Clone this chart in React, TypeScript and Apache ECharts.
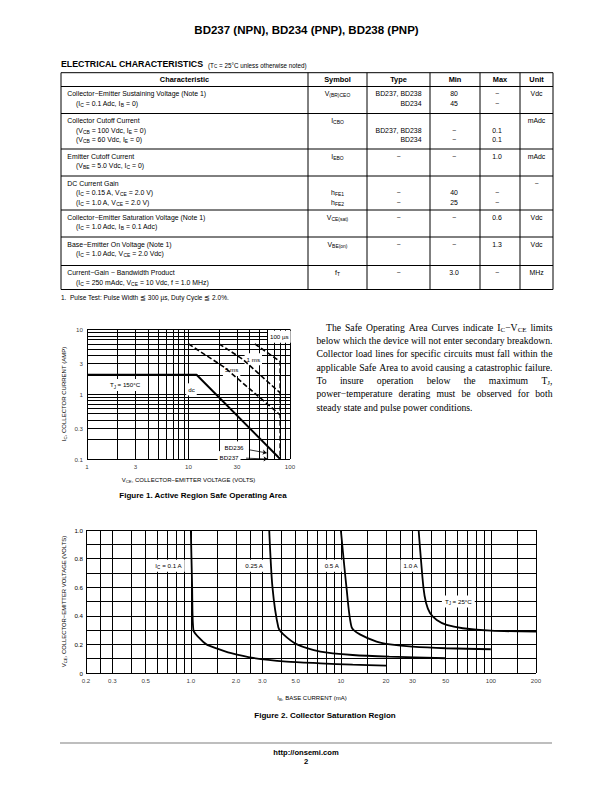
import React, { useEffect, useRef } from "react";
import * as echarts from "echarts";

const SANS = '"Liberation Sans", Arial, Helvetica, sans-serif';
const SERIF = '"Liberation Serif", "Times New Roman", Times, serif';
const BLACK = "#000";

// ---------------- page texts ----------------
const pageTitle = "BD237 (NPN), BD234 (PNP), BD238 (PNP)";
const tableTitle = "ELECTRICAL CHARACTERISTICS";
const tableTitleNote = "(T_{C} = 25°C unless otherwise noted)";
const tableHeaders = ["Characteristic", "Symbol", "Type", "Min", "Max", "Unit"];
const rowCharacteristic = [
  ["Collector−Emitter Sustaining Voltage (Note 1)", "(I_{C} = 0.1 Adc, I_{B} = 0)"],
  ["Collector Cutoff Current", "(V_{CB} = 100 Vdc, I_{E} = 0)", "(V_{CB} = 60 Vdc, I_{E} = 0)"],
  ["Emitter Cutoff Current", "(V_{BE} = 5.0 Vdc, I_{C} = 0)"],
  ["DC Current Gain", "(I_{C} = 0.15 A, V_{CE} = 2.0 V)", "(I_{C} = 1.0 A, V_{CE} = 2.0 V)"],
  ["Collector−Emitter Saturation Voltage (Note 1)", "(I_{C} = 1.0 Adc, I_{B} = 0.1 Adc)"],
  ["Base−Emitter On Voltage (Note 1)", "(I_{C} = 1.0 Adc, V_{CE} = 2.0 Vdc)"],
  ["Current−Gain − Bandwidth Product", "(I_{C} = 250 mAdc, V_{CE} = 10 Vdc, f = 1.0 MHz)"],
];
const rowSymbol = [["V_{(BR)CEO}"], ["I_{CBO}"], ["I_{EBO}"], ["", "h_{FE1}", "h_{FE2}"], ["V_{CE(sat)}"], ["V_{BE(on)}"], ["f_{T}"]];
const rowType = [["BD237, BD238", "BD234"], ["", "BD237, BD238", "BD234"], ["−"], ["", "−", "−"], ["−"], ["−"], ["−"]];
const rowMin = [["80", "45"], ["", "−", "−"], ["−"], ["", "40", "25"], ["−"], ["−"], ["3.0"]];
const rowMax = [["−", "−"], ["", "0.1", "0.1"], ["1.0"], ["", "−", "−"], ["0.6"], ["1.3"], ["−"]];
const rowUnit = [["Vdc"], ["mAdc"], ["mAdc"], ["−"], ["Vdc"], ["Vdc"], ["MHz"]];
const footnote = "1.  Pulse Test: Pulse Width ≦ 300 µs, Duty Cycle ≦ 2.0%.";

const paragraphLines = [
  "The Safe Operating Area Curves indicate I_{C}−V_{CE} limits",
  "below which the device will not enter secondary breakdown.",
  "Collector load lines for specific circuits must fall within the",
  "applicable Safe Area to avoid causing a catastrophic failure.",
  "To insure operation below the maximum T_{J},",
  "power−temperature derating must be observed for both",
  "steady state and pulse power conditions.",
];

// ---------------- Figure 1 data ----------------
const fig1XTicks = [1, 3, 10, 30, 100];
const fig1XTickLabels = ["1", "3", "10", "30", "100"];
const fig1YTicks = [0.1, 0.3, 1, 3, 10];
const fig1YTickLabels = ["0.1", "0.3", "1", "3", "10"];
const fig1XGrid = [1, 2, 3, 4, 5, 6, 7, 8, 9, 10, 20, 30, 40, 50, 60, 70, 80, 90, 100];
const fig1YGrid = [0.1, 0.2, 0.3, 0.4, 0.5, 0.6, 0.7, 0.8, 0.9, 1, 2, 3, 4, 5, 6, 7, 8, 9, 10];
const soaDc = [[1, 2], [12, 2], [80, 0.1]];
const soa5ms = [[10, 6], [22.6, 2.6], [80, 0.48]];
const soa1ms = [[20, 6], [34, 3.5], [80, 1.05]];
const soa100us = [[45, 6], [80, 3.2], [80, 0.1]];
const soaBD236 = [[60, 0.15], [60, 0.1]];
const fig1Notes = ["T_{J} = 150°C", "dc", "5 ms", "1 ms", "100 µs", "BD236", "BD237"];
const fig1Title = "Figure 1. Active Region Safe Operating Area";
const fig1XName = "V_{CE}, COLLECTOR−EMITTER VOLTAGE (VOLTS)";
const fig1YName = "I_{C}, COLLECTOR CURRENT (AMP)";

// ---------------- Figure 2 data ----------------
const fig2XTicks = [0.2, 0.3, 0.5, 1, 2, 3, 5, 10, 20, 30, 50, 100, 200];
const fig2XTickLabels = ["0.2", "0.3", "0.5", "1.0", "2.0", "3.0", "5.0", "10", "20", "30", "50", "100", "200"];
const fig2XGrid = [0.2, 0.25, 0.3, 0.4, 0.5, 0.6, 0.7, 0.8, 0.9, 1, 1.5, 2, 2.5, 3, 4, 5, 6, 7, 8, 9, 10, 15, 20, 25, 30, 40, 50, 60, 70, 80, 90, 100, 150, 200];
const fig2YGrid = [0, 0.1, 0.2, 0.3, 0.4, 0.5, 0.6, 0.7, 0.8, 0.9, 1.0];
const sat01A = [[1.0, 1.0], [1.02, 0.6], [1.04, 0.3], [1.15, 0.24], [1.27, 0.2], [1.5, 0.17], [1.83, 0.14], [2.6, 0.105], [4.35, 0.08], [7.3, 0.068], [12, 0.058], [20, 0.052]];
const sat025A = [[3.33, 1.0], [3.5, 0.6], [3.83, 0.32], [4.14, 0.27], [5.1, 0.2], [7.3, 0.15], [12, 0.126], [21, 0.114], [50, 0.103]];
const sat05A = [[10, 1.0], [10.9, 0.6], [11.8, 0.32], [13.4, 0.27], [17.3, 0.22], [21.3, 0.2], [30, 0.184], [50, 0.173], [100, 0.166]];
const sat10A = [[33, 1.0], [35.5, 0.6], [37, 0.49], [39.3, 0.42], [43.6, 0.37], [50.7, 0.336], [65, 0.313], [100, 0.296], [200, 0.289]];
const fig2Notes = ["I_{C} = 0.1 A", "0.25 A", "0.5 A", "1.0 A", "T_{J} = 25°C"];
const fig2Title = "Figure 2. Collector Saturation Region";
const fig2XName = "I_{B}, BASE CURRENT (mA)";
const fig2YName = "V_{CE}, COLLECTOR−EMITTER VOLTAGE (VOLTS)";

// ---------------- layout (not data) ----------------
const fig1NoteAt = [[2.37, 1.39], [10.7, 1.19], [26.6, 2.37], [43.5, 3.47], [78.5, 7.74], [28.1, 0.151], [25.1, 0.107]];
const fig1Leaders = [[[39.4, 0.139], [58.9, 0.124]], [[36.9, 0.103], [60, 0.1]]];
const fig2NoteAt = [[0.71, 0.75], [2.64, 0.75], [8.69, 0.75], [29.2, 0.75], [60.7, 0.5]];
const colEdges = [61, 308, 367, 430, 480, 520, 553];
const rowEdges = [72.7, 86.5, 113.5, 149, 176, 210, 237, 265.5, 289.5];

function splitSub(str: string) {
  return str.split(/_\{([^}]*)\}/);
}

function richParts(str: string, size: number, family: string, weight: string, subRatio = 0.72) {
  const parts = splitSub(str);
  let text = "";
  parts.forEach((p, i) => {
    if (p === "") return;
    text += `{${i % 2 ? "s" : "n"}|${p}}`;
  });
  const sub = size * subRatio;
  const rich = {
    n: { fontSize: size, fontFamily: family, fontWeight: weight, lineHeight: size * 1.3, verticalAlign: "middle", fill: BLACK, color: BLACK },
    s: { fontSize: sub, fontFamily: family, fontWeight: weight, lineHeight: sub, verticalAlign: "bottom", fill: BLACK, color: BLACK },
  };
  return { text, rich };
}

function T(x: number, y: number, str: string, size: number, opts: any = {}) {
  const family = opts.family || SANS;
  const weight = opts.weight || "normal";
  const { text, rich } = richParts(str, size, family, weight, opts.sub || 0.72);
  const align = opts.align || "left";
  return {
    type: "text",
    x,
    y,
    rotation: opts.rotation || 0,
    silent: true,
    z: 50,
    style: {
      text,
      rich,
      fontSize: size,
      fontFamily: family,
      fontWeight: weight,
      fill: BLACK,
      align,
      textAlign: align,
      verticalAlign: "middle",
      textVerticalAlign: "middle",
    },
  };
}

function L(x1: number, y1: number, x2: number, y2: number, w = 0.8, color = BLACK) {
  return { type: "line", silent: true, z: 40, shape: { x1, y1, x2, y2 }, style: { stroke: color, lineWidth: w } };
}

function buildTable(): any[] {
  const els: any[] = [];
  els.push(T(61, 64, tableTitle, 8.8, { weight: "bold" }));
  els.push(T(208, 65, tableTitleNote, 6.3));
  const top = rowEdges[0];
  const bottom = rowEdges[rowEdges.length - 1];
  rowEdges.forEach((y) => els.push(L(colEdges[0], y, colEdges[colEdges.length - 1], y, 1)));
  colEdges.forEach((x) => els.push(L(x, top, x, bottom, 1)));
  tableHeaders.forEach((h, i) => {
    els.push(T((colEdges[i] + colEdges[i + 1]) / 2, (rowEdges[0] + rowEdges[1]) / 2, h, 7.4, { weight: "bold", align: "center" }));
  });
  const lineY = (r: number, k: number) => rowEdges[r + 1] + 7.4 + k * 9.4;
  rowCharacteristic.forEach((lines, r) => {
    lines.forEach((s, k) => els.push(T(k === 0 ? 67.3 : 76, lineY(r, k), s, 6.9)));
    rowSymbol[r].forEach((s, k) => s && els.push(T(337.5, lineY(r, k), s, 6.9, { align: "center" })));
    rowType[r].forEach((s, k) => {
      if (!s) return;
      if (s.startsWith("BD")) els.push(T(421.5, lineY(r, k), s, 6.9, { align: "right" }));
      else els.push(T(398.5, lineY(r, k), s, 6.9, { align: "center" }));
    });
    rowMin[r].forEach((s, k) => s && els.push(T(454, lineY(r, k), s, 6.9, { align: "center" })));
    rowMax[r].forEach((s, k) => s && els.push(T(497, lineY(r, k), s, 6.9, { align: "center" })));
    rowUnit[r].forEach((s, k) => s && els.push(T(536.5, lineY(r, k), s, 6.9, { align: "center" })));
  });
  els.push(T(61, 297, footnote, 6.5));
  return els;
}

function buildParagraph(): any[] {
  const els: any[] = [];
  const canvas = document.createElement("canvas");
  const ctx = canvas.getContext("2d") as CanvasRenderingContext2D;
  const measure = (s: string, size: number) => {
    ctx.font = `${size}px ${SERIF}`;
    return ctx.measureText(s).width;
  };
  const measureRich = (s: string, size: number) => {
    let w = 0;
    splitSub(s).forEach((p, i) => {
      if (p) w += measure(p, i % 2 ? size * 0.72 : size);
    });
    return w;
  };
  const left = 316.5;
  const right = 552.5;
  const indent = 9.5;
  let size = 9.4;
  const refW = measureRich(paragraphLines[1], size);
  size = Math.max(8.4, Math.min(10.6, (size * (right - left) * 0.995) / refW));
  const y0 = 327.2;
  const lh = 13.35;
  paragraphLines.forEach((line, li) => {
    const words = line.split(" ");
    const start = left + (li === 0 ? indent : 0);
    const widths = words.map((w) => measureRich(w, size));
    const sum = widths.reduce((a, b) => a + b, 0);
    const last = li === paragraphLines.length - 1;
    const gap = last || words.length < 2 ? measure(" ", size) : (right - start - sum) / (words.length - 1);
    let x = start;
    words.forEach((w, wi) => {
      els.push(T(x, y0 + li * lh, w, size, { family: SERIF }));
      x += widths[wi] + gap;
    });
  });
  return els;
}

function labelRich(str: string, size: number) {
  const parts = splitSub(str);
  let text = "";
  parts.forEach((p, i) => {
    if (p === "") return;
    text += `{${i % 2 ? "s" : "n"}|${p}}`;
  });
  const sub = size * 0.72;
  return {
    formatter: text,
    rich: {
      n: { fontSize: size, fontFamily: SANS, color: BLACK, lineHeight: size * 1.3, verticalAlign: "middle" },
      s: { fontSize: sub, fontFamily: SANS, color: BLACK, lineHeight: sub, verticalAlign: "bottom" },
    },
  };
}

const gridLineStyle = { color: BLACK, width: 1, type: "solid" };

function gridMarkLine(items: any[]) {
  return {
    silent: true,
    symbol: ["none", "none"],
    label: { show: false },
    lineStyle: gridLineStyle,
    emphasis: { disabled: true },
    animation: false,
    data: items,
  };
}

function tickSeries(idx: number, data: number[][], labels: string[], position: string, markLine?: any) {
  const s: any = {
    type: "scatter",
    xAxisIndex: idx,
    yAxisIndex: idx,
    data,
    symbolSize: 1,
    itemStyle: { color: "rgba(0,0,0,0)" },
    silent: true,
    z: 1,
    emphasis: { disabled: true },
    label: {
      show: true,
      position,
      distance: 3.5,
      formatter: (p: any) => labels[p.dataIndex],
      fontSize: 6.2,
      fontFamily: SANS,
      color: BLACK,
    },
  };
  if (markLine) s.markLine = markLine;
  return s;
}

function noteSeries(idx: number, notes: string[], at: number[][], pad: number[], leaders?: number[][][]) {
  const s: any = {
    type: "scatter",
    xAxisIndex: idx,
    yAxisIndex: idx,
    data: [at[0]],
    symbolSize: 0,
    itemStyle: { color: "rgba(0,0,0,0)" },
    silent: true,
    z: 10,
    emphasis: { disabled: true },
    markPoint: {
      silent: true,
      symbol: "rect",
      symbolSize: 1,
      itemStyle: { color: "rgba(0,0,0,0)" },
      animation: false,
      data: notes.map((t, i) => {
        const r = labelRich(t, 6.2);
        return {
          coord: at[i],
          label: {
            show: true,
            position: "inside",
            formatter: r.formatter,
            rich: r.rich,
            backgroundColor: "#fff",
            padding: pad,
            color: BLACK,
          },
        };
      }),
    },
  };
  if (leaders) {
    s.markLine = {
      silent: true,
      symbol: ["none", "arrow"],
      symbolSize: 4,
      label: { show: false },
      lineStyle: { color: BLACK, width: 0.8, type: "solid" },
      emphasis: { disabled: true },
      animation: false,
      data: leaders.map((pair) => [{ coord: pair[0] }, { coord: pair[1] }]),
    };
  }
  return s;
}

function curve(idx: number, data: number[][], width: number, dashed: boolean, smooth: any = false) {
  return {
    type: "line",
    xAxisIndex: idx,
    yAxisIndex: idx,
    data,
    symbol: "none",
    smooth,
    silent: true,
    z: 5,
    emphasis: { disabled: true },
    lineStyle: { color: BLACK, width, type: dashed ? [5, 2.5] : "solid", cap: "butt" },
  };
}

function buildOption() {
  const graphic: any[] = [];
  graphic.push(T(306.5, 30, pageTitle, 11.5, { weight: "bold", align: "center" }));
  graphic.push(...buildTable());
  graphic.push(...buildParagraph());
  graphic.push(T(64, 394, fig1YName, 6, { align: "center", rotation: Math.PI / 2 }));
  graphic.push(T(188.5, 480, fig1XName, 6, { align: "center" }));
  graphic.push(T(203, 495.5, fig1Title, 8, { weight: "bold", align: "center" }));
  graphic.push(T(64, 601.5, fig2YName, 5.9, { align: "center", rotation: Math.PI / 2 }));
  graphic.push(T(312, 698, fig2XName, 6, { align: "center" }));
  graphic.push(T(325, 715.5, fig2Title, 8, { weight: "bold", align: "center" }));
  graphic.push(L(60, 743, 552, 743, 1.6, "#a8a8a8"));
  graphic.push(T(306, 752, "http://onsemi.com", 7.6, { weight: "bold", align: "center" }));
  graphic.push(T(306, 761, "2", 7.6, { weight: "bold", align: "center" }));

  return {
    animation: false,
    backgroundColor: "#fff",
    grid: [
      { left: 87, top: 329.5, width: 203, height: 129.5 },
      { left: 86, top: 530, width: 450, height: 143 },
    ],
    xAxis: [
      { type: "log", logBase: 10, min: 1, max: 100, gridIndex: 0, show: false },
      { type: "log", logBase: 10, min: 0.2, max: 200, gridIndex: 1, show: false },
    ],
    yAxis: [
      { type: "log", logBase: 10, min: 0.1, max: 10, gridIndex: 0, show: false },
      {
        type: "value",
        min: 0,
        max: 1,
        interval: 0.1,
        gridIndex: 1,
        axisLine: { show: false },
        axisTick: { show: false },
        splitLine: { show: false },
        axisLabel: {
          margin: 3,
          fontSize: 6.2,
          fontFamily: SANS,
          color: BLACK,
          formatter: (v: number) => {
            const k = Math.round(v * 10);
            if (k % 2) return "";
            return k === 0 ? "0" : (k / 10).toFixed(1);
          },
        },
      },
    ],
    series: [
      tickSeries(0, fig1XTicks.map((v) => [v, 0.1]), fig1XTickLabels, "bottom",
        gridMarkLine([...fig1XGrid.map((v) => ({ xAxis: v })), ...fig1YGrid.map((v) => ({ yAxis: v }))])),
      tickSeries(0, fig1YTicks.map((v) => [1, v]), fig1YTickLabels, "left"),
      curve(0, soaDc, 2, false),
      curve(0, soa5ms, 1.6, true),
      curve(0, soa1ms, 1.6, true),
      curve(0, soa100us, 1.6, true),
      curve(0, soaBD236, 1.2, false),
      noteSeries(0, fig1Notes, fig1NoteAt, [2, 2], fig1Leaders),
      tickSeries(1, fig2XTicks.map((v) => [v, 0]), fig2XTickLabels, "bottom",
        gridMarkLine([...fig2XGrid.map((v) => ({ xAxis: v })), ...fig2YGrid.map((v) => ({ yAxis: v }))])),
      curve(1, sat01A, 1.8, false, 0.25),
      curve(1, sat025A, 1.8, false, 0.25),
      curve(1, sat05A, 1.8, false, 0.25),
      curve(1, sat10A, 1.8, false, 0.25),
      noteSeries(1, fig2Notes, fig2NoteAt, [2, 3]),
    ],
    graphic,
  };
}

export default function App() {
  const ref = useRef<HTMLDivElement>(null);
  useEffect(() => {
    if (!ref.current) return;
    const chart = echarts.init(ref.current, null, { renderer: "svg" });
    chart.setOption(buildOption() as any);
    return () => chart.dispose();
  }, []);
  return (
    <div
      ref={ref}
      style={{ position: "absolute", left: 0, top: 0, width: 612, height: 792, background: "#fff" }}
    />
  );
}
